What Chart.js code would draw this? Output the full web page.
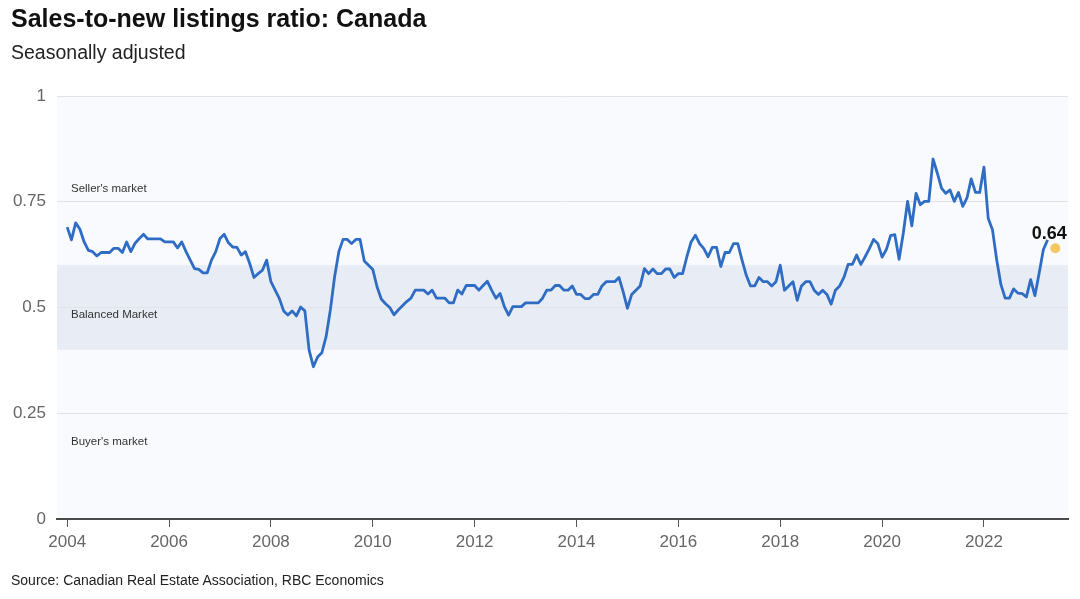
<!DOCTYPE html>
<html>
<head>
<meta charset="utf-8">
<script src="https://cdn.jsdelivr.net/npm/chart.js@4.4.0/dist/chart.umd.min.js"></script>
<style>
html,body{margin:0;padding:0;background:#fff;width:1080px;height:599px;overflow:hidden;font-family:"Liberation Sans",Arial,sans-serif;}
#wrap{position:relative;width:1080px;height:599px;}
canvas{position:absolute;left:0;top:0;}
.t{position:absolute;left:11px;white-space:nowrap;color:#111;}
#title{top:4px;font-size:25px;font-weight:bold;line-height:28px;}
#sub{top:41px;font-size:19.5px;line-height:22px;color:#222;}
#src{top:571px;font-size:14px;line-height:18px;color:#222;}
</style>
</head>
<body>
<div id="wrap">
<canvas id="c" width="1080" height="599"></canvas>
<div class="t" id="title">Sales-to-new listings ratio: Canada</div>
<div class="t" id="sub">Seasonally adjusted</div>
<div class="t" id="src">Source: Canadian Real Estate Association, RBC Economics</div>
</div>
<script>
// Monthly data, starting January 2004
const startYear = 2004;
const ratio = [
  0.69, 0.66, 0.70, 0.685, 0.655, 0.635, 0.632, 0.622, 0.63, 0.63, 0.63, 0.64,
  0.64, 0.63, 0.655, 0.632, 0.652, 0.663, 0.673, 0.662, 0.662, 0.662, 0.662, 0.655,
  0.655, 0.655, 0.641, 0.655, 0.632, 0.612, 0.592, 0.59, 0.582, 0.582, 0.612, 0.632,
  0.663, 0.673, 0.653, 0.643, 0.642, 0.624, 0.632, 0.604, 0.571, 0.580, 0.588, 0.612,
  0.561, 0.541, 0.521, 0.492, 0.482, 0.492, 0.480, 0.501, 0.492, 0.399, 0.360, 0.383,
  0.393, 0.431, 0.494, 0.572, 0.632, 0.661, 0.661, 0.651, 0.661, 0.661, 0.610, 0.600,
  0.590, 0.549, 0.520, 0.509, 0.500, 0.483, 0.494, 0.504, 0.514, 0.522, 0.541, 0.541,
  0.541, 0.532, 0.541, 0.522, 0.522, 0.522, 0.511, 0.511, 0.541, 0.532, 0.552, 0.552,
  0.552, 0.541, 0.552, 0.562, 0.541, 0.522, 0.533, 0.502, 0.482, 0.502, 0.502, 0.502,
  0.511, 0.511, 0.511, 0.511, 0.522, 0.541, 0.541, 0.552, 0.552, 0.541, 0.541, 0.551,
  0.531, 0.531, 0.521, 0.521, 0.531, 0.531, 0.551, 0.561, 0.561, 0.561, 0.571, 0.537,
  0.498, 0.531, 0.541, 0.551, 0.592, 0.580, 0.591, 0.580, 0.580, 0.591, 0.591, 0.571,
  0.580, 0.580, 0.620, 0.655, 0.671, 0.651, 0.639, 0.620, 0.642, 0.642, 0.597, 0.630,
  0.630, 0.651, 0.651, 0.612, 0.576, 0.551, 0.551, 0.571, 0.561, 0.561, 0.551, 0.561,
  0.600, 0.541, 0.551, 0.561, 0.517, 0.551, 0.561, 0.561, 0.541, 0.531, 0.541, 0.531,
  0.508, 0.541, 0.551, 0.571, 0.602, 0.602, 0.624, 0.602, 0.620, 0.639, 0.661, 0.651,
  0.619, 0.637, 0.670, 0.672, 0.614, 0.676, 0.751, 0.693, 0.770, 0.743, 0.751, 0.751,
  0.851, 0.818, 0.782, 0.770, 0.778, 0.751, 0.772, 0.739, 0.759, 0.804, 0.772, 0.772,
  0.832, 0.711, 0.684, 0.613, 0.554, 0.522, 0.522, 0.544, 0.534, 0.533, 0.525, 0.566,
  0.528, 0.581, 0.637, 0.660
];
const latestYear = 2023.4;
const latestValue = 0.64;
const latestLabel = "0.64";
const xTickYears = [2004, 2006, 2008, 2010, 2012, 2014, 2016, 2018, 2020, 2022];
const yTicks = [0, 0.25, 0.5, 0.75, 1];
const yTickLabels = ["0", "0.25", "0.5", "0.75", "1"];
const balancedZone = [0.4, 0.6];
const zoneLabels = ["Seller's market", "Balanced Market", "Buyer's market"];
const zoneLabelLevels = [0.78, 0.483, 0.183];

const FONT = '"Liberation Sans", Arial, sans-serif';
const linePoints = ratio.map((v, i) => ({ x: startYear + i / 12, y: v }));

const decor = {
  id: 'decor',
  beforeDraw(chart) {
    const { ctx, chartArea: a, scales: { y } } = chart;
    ctx.save();
    ctx.fillStyle = '#f9fafd';
    ctx.fillRect(a.left, a.top, a.right - a.left, a.bottom - a.top);
    const yTop = y.getPixelForValue(balancedZone[1]);
    const yBot = y.getPixelForValue(balancedZone[0]);
    ctx.fillStyle = '#e8ecf4';
    ctx.fillRect(a.left, yTop, a.right - a.left, yBot - yTop);
    ctx.restore();
  },
  afterDatasetsDraw(chart) {
    const { ctx, chartArea: a, scales: { x, y } } = chart;
    ctx.save();
    ctx.font = '11.5px ' + FONT;
    ctx.fillStyle = '#333';
    ctx.textAlign = 'left';
    ctx.textBaseline = 'middle';
    zoneLabels.forEach((t, i) => ctx.fillText(t, a.left + 14, y.getPixelForValue(zoneLabelLevels[i])));
    ctx.font = 'bold 18px ' + FONT;
    ctx.fillStyle = '#111';
    ctx.textAlign = 'center';
    ctx.fillText(latestLabel, x.getPixelForValue(latestYear) - 6, y.getPixelForValue(latestValue) - 14);
    ctx.restore();
  }
};

new Chart(document.getElementById('c'), {
  type: 'line',
  data: {
    datasets: [
      {
        data: linePoints,
        borderColor: '#2f6dc4',
        borderWidth: 2.8,
        pointRadius: 0,
        tension: 0,
        borderJoinStyle: 'round',
        fill: false
      },
      {
        data: [{ x: latestYear, y: latestValue }],
        showLine: false,
        pointRadius: 5,
        pointBackgroundColor: '#f3c862',
        pointBorderWidth: 0
      }
    ]
  },
  options: {
    responsive: false,
    devicePixelRatio: 1,
    animation: false,
    layout: { padding: { top: 96, right: 12, left: 0, bottom: 0 } },
    plugins: { legend: { display: false }, tooltip: { enabled: false }, title: { display: false } },
    scales: {
      x: {
        type: 'linear',
        min: 2003.8,
        max: 2023.65,
        afterBuildTicks: s => { s.ticks = xTickYears.map(v => ({ value: v })); },
        afterFit: s => { s.height = 80; },
        grid: { drawOnChartArea: false, drawTicks: true, tickLength: 8, color: '#555', lineWidth: 1 },
        border: { display: true, color: '#4a4a4a', width: 2 },
        ticks: { autoSkip: false, maxRotation: 0, padding: 5, color: '#666', font: { size: 17, family: FONT }, callback: v => String(v) }
      },
      y: {
        min: 0,
        max: 1,
        afterBuildTicks: s => { s.ticks = yTicks.map(v => ({ value: v })); },
        afterFit: s => { s.width = 57; },
        grid: { color: '#e3e3e6', lineWidth: 1, drawTicks: false },
        border: { display: false },
        ticks: { padding: 11, color: '#666', font: { size: 17, family: FONT }, callback: (v) => yTickLabels[yTicks.indexOf(v)] }
      }
    }
  },
  plugins: [decor]
});
</script>
</body>
</html>
